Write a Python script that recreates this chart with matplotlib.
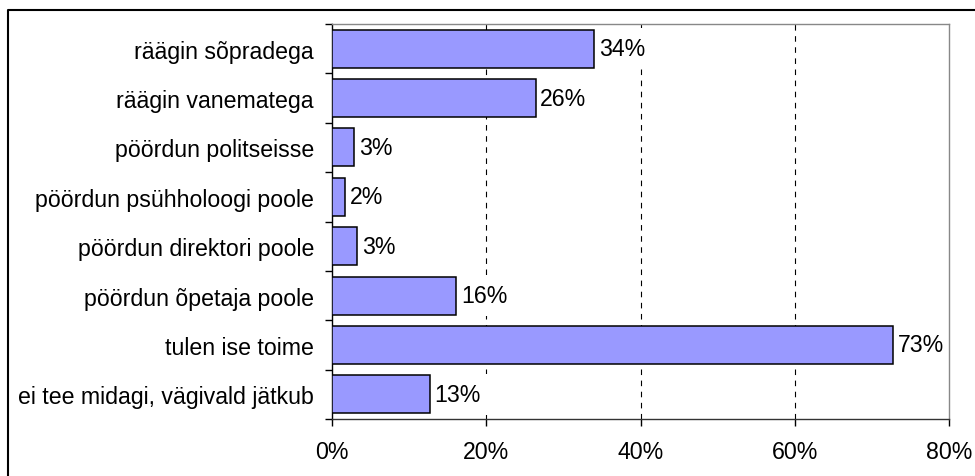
import matplotlib
matplotlib.use("Agg")
import matplotlib.pyplot as plt
from matplotlib.lines import Line2D

plt.rcParams['font.family'] = ['Liberation Sans', 'DejaVu Sans']

# andmed (ülevalt alla)
categories = [
    "räägin sõpradega",
    "räägin vanematega",
    "pöördun politseisse",
    "pöördun psühholoogi poole",
    "pöördun direktori poole",
    "pöördun õpetaja poole",
    "tulen ise toime",
    "ei tee midagi, vägivald jätkub",
]
values = [34.0, 26.4, 2.9, 1.7, 3.3, 16.1, 72.8, 12.7]
xticks = [0, 20, 40, 60, 80]

FS = 16.7

fig = plt.figure(figsize=(9.75, 4.77), dpi=100)
ax = fig.add_axes([332/975, 1-420/477, (949-332)/975, (420-25)/477])

y = list(range(len(categories)))
ax.barh(y, values, height=0.77, color='#9999FF', edgecolor='black', linewidth=1.1, zorder=3)

# sildid valge taustaga (katavad ruudujooned)
for yi, v in zip(y, values):
    ax.text(v + 0.6, yi, f"{round(v)}%", va='center', ha='left', fontsize=FS, zorder=2,
            bbox=dict(boxstyle='square,pad=0.4', fc='white', ec='none'))

ax.set_xlim(0, 80)
ax.set_ylim(len(categories) - 0.5, -0.5)
ax.set_xticks(xticks)
ax.set_xticklabels([f"{t}%" for t in xticks], fontsize=FS)
ax.set_yticks(y)
ax.set_yticklabels(categories, fontsize=FS)
ax.set_yticks([i - 0.5 for i in range(len(categories) + 1)], minor=True)

ax.tick_params(axis='y', which='major', length=0, pad=13)
ax.tick_params(axis='y', which='minor', length=5, width=1, direction='out')
ax.tick_params(axis='x', length=5, width=1, direction='out', pad=10)

for gx in xticks[1:-1]:
    ax.axvline(gx, color='black', linestyle=(0, (5, 5)), linewidth=0.8, zorder=1)

ax.spines['left'].set_color('black')
ax.spines['bottom'].set_color('#333333')
ax.spines['top'].set_color('#888888')
ax.spines['right'].set_color('#888888')
for s in ax.spines.values():
    s.set_linewidth(1.0)

# välimine raam
fig.add_artist(Line2D([8/975, 8/975, 1.0], [0.0, 1-11/477, 1-11/477],
                      transform=fig.transFigure, color='black', linewidth=1.5))

fig.savefig("out.png", dpi=100)
